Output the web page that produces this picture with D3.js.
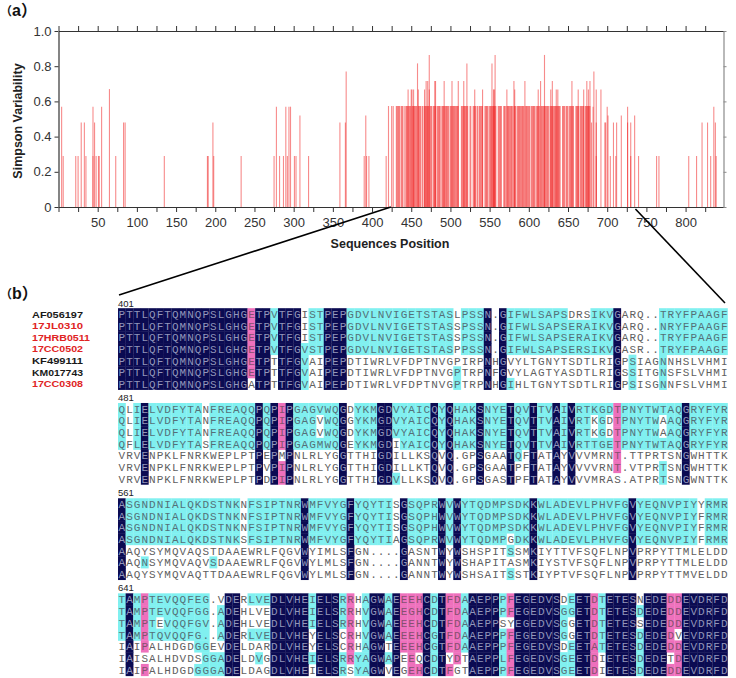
<!DOCTYPE html>
<html><head><meta charset="utf-8">
<style>html,body{margin:0;padding:0;background:#fff}svg{display:block}</style>
<script src="https://cdn.jsdelivr.net/npm/d3@7/dist/d3.min.js"></script>
</head><body><svg id="c" width="736" height="678"></svg>
<script>
// ---------- panel (a) data ----------
const scatterPositions = [4,6,22,25,29,33,35,44,44,46,48,51,52,55,65,73,83,85,135,190,191,197,198,233,275,278,282,287,290,292,294,296,301,303,308,319,359,366,367,390,392,393,396,418,680,682,686,686,697,698,700,701,704,708,711,712,718,726,726,730,730,735,740,763,766,804,814,821,828,832,836,838,839];
const scatterValues    = [.57,.29,.29,.29,.48,.48,.29,.29,.57,.48,.29,.29,.29,.57,.67,.29,.48,.48,.29,.29,.29,.48,.29,.29,.29,.57,.29,.29,.57,.29,.57,.57,.29,.29,.52,.29,.48,.48,.77,.29,.52,.29,.29,.29,.48,.57,.48,.29,.48,.48,.57,.52,.29,.48,.29,.48,.52,.57,.48,.48,.29,.52,.29,.29,.29,.29,.29,.48,.48,.29,.57,.48,.29];
const densePositions = [421,425,427,431,432,433,434,435,437,438,439,441,443,444,445,446,447,448,449,451,452,453,454,455,456,457,459,460,461,462,464,465,467,468,469,470,471,472,474,475,476,478,479,480,481,483,484,485,486,487,489,490,491,492,493,494,495,496,497,498,500,501,502,503,504,505,506,507,508,509,510,514,515,516,517,518,519,520,521,522,525,526,529,530,531,532,534,535,537,538,539,540,541,544,545,546,547,548,550,551,552,553,554,555,556,557,558,561,562,563,564,565,568,569,570,572,573,574,575,576,577,578,579,581,582,583,585,586,587,588,589,590,591,592,593,594,596,597,598,599,600,601,603,604,605,606,607,608,610,611,612,613,614,616,617,618,619,620,621,622,623,624,625,627,628,629,630,631,632,633,634,635,636,637,638,639,640,643,644,645,646,648,649,650,652,653,654,655,656,657,660,661,662,663,664,666,667,668,669,670,672,673,674,675,676,677,678];
const denseValue = 0.574;
const peakPositions = [446,450,451,453,458,459,467,469,471,473,473,480,481,492,502,510,517,521,531,541,553,555,556,557,572,581,582,595,612,615,620,628,630,635,637,655,663,670,674,676,678,683,686,692];
const peakValues    = [.668,.668,.668,.668,.816,.668,.668,.716,.716,.864,.668,.716,.716,.716,.716,.716,.716,.816,.668,.668,.816,.668,.668,.864,.668,.716,.668,.716,.668,.716,.864,.668,.716,.668,.668,.716,.668,.668,.716,.668,.716,.77,.668,.668];
const xTickLabels = [50,100,150,200,250,300,350,400,450,500,550,600,650,700,750,800];
const yTickValues = [0,0.2,0.4,0.6,0.8,1.0];

// ---------- panel (b) data ----------
const seqNames = ["AF056197","17JL0310","17HRB0511","17CC0502","KF499111","KM017743","17CC0308"];
const nameIsNew = [false,true,true,true,false,false,true];
const blockStarts = ["401","481","561","641"];
const block401 = [
"PTTLQFTQMNQPSLGHGETPVTFGISTPEPGDVLNVIGETSTASLPSSN.GIFWLSAPSDRSIKVGARQ..TRYFPAAGF",
"PTTLQFTQMNQPSLGHGETPVTFGISTPEPGDVLNVIGETSTASSPSSN.GIFWLSAPSERAIKVGARQ..NRYFPAAGF",
"PTTLQFTQMNQPSLGHGETPVTFGISTPEPGDVLNVIGETSTASSPSSN.GIFWLSAPSERAIKVGARQ..TRYFPAAGF",
"PTTLQFTQMNQPSLGHGETPVTFGVSTPEPGDVLNVIGETSTASPPSSN.GIFWLSAPSERSIKVGASR..TRYFPAAGF",
"PTTLQFTQMNQPSLGHGETPTTFGVAIPEPDTIWRLVFDPTNVGPIRPNHGVYLTGNYTSDTLRIGPSIAGNNHSLVHMI",
"PTTLQFTQMNQPSLGHGETPTTFGVAIPEPDTIWRLVFDPTNVGPTRPNFGVYLAGTYASDTLRIGSSITGNSFSLVHMI",
"PTTLQFTQMNQPSLGHGATPTTFGVAIPEPDTIWRLVFDPTNVGPTRPNHGIHLTGNYTSDTLRIGPSISGNNFSLVHMI"];
const shade401 = [
"17n1p2n1c3n1.2c3n14c1.3c1n1.1n8c3.3c1n5.9c",
"17n1p2n1c3n1.2c3n14c1.3c1n1.1n14c1n5.9c",
"17n1p2n1c3n1.2c3n14c1.3c1n1.1n14c1n5.9c",
"17n1p2n1c3n3c3n14c1.3c1n1.1n14c1n5.9c",
"17n1p2n1.3n1c2.3n18.1n1.1n14.1n1.1c3.1c8.",
"17n1p2n1.3n1c2.3n14.1c3.1n1.1n14.1n1.1c3.1c8.",
"17n1.2n1.3n1c2.3n14.1c3.1n1.1n1c13.1n1.1c3.1c8."];
const block481 = [
"QLIELVDFYTANFREAQQPQPIPGAGVWQGDYKMGDVYAICQYQHAKSNYETQVTTVAIVRTKGDTPNYTWTAQGRYFYR",
"QLIELVDFYTANFREAQQPQPIPGAGVWQGGYKMGDVYAICQYQHAKSNYETQVTTVAIVRTKGDTPNYTWAAQGRYFYR",
"QLIELVDFYTANFREAQQPQPIPGAGVWQGDYKMGDVYAICQYQHAKSNYETQVTTVAIVRTKGDTPNYTWAAQGRYFYR",
"QFLELVDFYTASFREAQQPQPIPGAGMWQGEYKMGDIYAICQYQHAKSNYETQVTTVAIVRTTGETPNYTWTAQGRYFYR",
"VRVENPKLFNRKWEPLPTPEPMPNLRLYGGTTHIGDILLKSQVQ.GPSGAATQFTATAYVVVMRNT.TTPRTSNGWHTTK",
"VRVENPKLFNRKWEPLPTPVPIPNLRLYGGTTHIGDILLKTQVQ.GPSGAATPFTATAYVVVVRNT.VTPRTSNGWHTTK",
"VRVENPKLFNRKWEPLPTPDPIPNLRLYGGTTHIGDVLLKSQVQ.GPSGASTPFTATAYVVVMRAS.ATPRTSNGWNTTK"];
const shade481 = [
"1c1.1c1n7c1.6c1n1c1n1p1n6c1n1.3c2n5c1n1c1n3c1n3c1n2c1n2c1n1c1n5c1p8c1n5c",
"1c1.1c1n7c1.6c1n1c1n1p1n3c1.2c1n1.3c2n5c1n1c1n3c1n3c1n2c1n2c1n1c1n2c1.1c1.1p5c1.2c1n5c",
"1c1.1c1n7c1.6c1n1c1n1p1n3c1.2c1n1.3c2n5c1n1c1n3c1n3c1n2c1n2c1n1c1n2c1.1c1.1p5c1.2c1n5c",
"1c1.1c1n7c1.6c1n1c1n1p1n6c1n1.3c2n1.4c1n1c1n3c1n3c1n2c1n2c1n1c1n5c1p8c1n5c",
"3.1n14.1n1.1n1.1n6.1n4.2n5.1n1.1n3.1n3.1n1c1.1n2.1n1.1n5.1p8.1n5.",
"3.1n14.1n1.1n1p1n6.1n4.2n5.1n1.1n3.1n3.1n2.1n2.1n1.1n5.1p5.1c2.1n5.",
"3.1n14.1n1.1n1p1n6.1n4.2n1c4.1n1.1n3.1n3.1n2.1n2.1n1.1n5.1.5.1c2.1n5."];
const block561 = [
"ASGNDNIALQKDSTNKNFSIPTNRWMFVYGFYQYTISGSQPRWVWYTQDMPSDKKWLADEVLPHVFGVYEQNVPIYYRMR",
"ASGNDNIALQKDSTNKNFSIPTNRWMFVYGFYQYTISGSQPHWVWYTQDMPSDKKWLADEVLPHVFGVYEQNVPIYFRMR",
"ASGNDNIALQKDSTNKNFSIPTNRWMFVYGFYQYTISGSQPHWVWYTQDMPSDKKWLADEVLPHVFGVYEQNVPIYFRMR",
"ASGNDNIALQKDSTNKSFSIPTNRWMFVYGFYQYTIAGSQPRWVWYTQDMPGDKKWLADEVLPHVFGVYEQNVPIYFRMR",
"AAQYSYMQVAQSTDAAEWRLFQGVWYIMLSFGN....GASNTWYWSHSPITSSMKIYTTVFSQFLNPVPRPYTTMLELDD",
"AAQNSYMQVAQVSDAAEWRLFQGVWYLMLSFGN....GANNTWYWSHAPITASMKIYSTVFSQFLNPVPRPYTTMLELDD",
"AAQYSYMQVAQTTDAAEWRLFQGVWYLMLSFGN....GANNTWYWSHSAITSSTKIYPTVFSQFLNPVPRPYTTMVELDD"];
const shade561 = [
"1n15c1.7c1n5c1n5c1.1n4c1n1c1n9c1n12c1n8c1.3c",
"1n15c1.7c1n5c1n5c1.1n4c1n1c1n9c1n12c1n8c1.3c",
"1n15c1.7c1n5c1n5c1.1n4c1n1c1n9c1n12c1n8c1.3c",
"1n15c1.7c1n5c1n5c1.1n4c1n1c1n6c1.2c1n12c1n8c1.3c",
"1n23.1n5.1n6.1n4.1n1.1n6.1c2.1n12.1n12.",
"1n2.1c8.1c11.1n5.1n6.1n4.1n1.1n9.1n12.1n12.",
"1n23.1n5.1n6.1n4.1n1.1n6.1c2.1n12.1n12."];
const block641 = [
"TAMPTEVQQFEG.VDERLVEDLVHEIELSRRHAGWAEEEHCDTFDAAEPPPFEGEDVSDEETDTETESNEDEDDEVDRFD",
"TAMPTEVQQFGG.ADEHLVEDLVHEIELSRRHVGWAEEGHCDTFDAAEPPPFEGEDVSGGETDTETESDEDEDDEVDRFD",
"TAMPTEVQQFGV.ADEHLVEDLVHEIELSRRHVGWAEEEHCDTFDAAEPPSYEGEDVSGGETDTETESSEDEDDEVDRFD",
"TAMPTQVQQFG..ADERLVEDLVHEYELSCRHVGWAEEEHCGTFDAAEPPPFEGEDVSGGETDTETESDEDEDVEVDRFD",
"IAIPALHDGDGGEVDELDARDLVHEYELSCRHAGWTEEEHCGTFDAAEPPPFEGEDVSDEETATETESDEDEDDEVDRFD",
"IAISALHDVDSGGADELDVGDLVHEIELSRRYAGWAPEEQCDTYDTAEPPLFEGEDVSGEETDIETESDEDETDEVDRFD",
"IAIPALHDGDGGGADELDAGDLVHEIELSRSYAGWVEGEHCDTFGTAEPPPFEGEDVSGEETDIETESDEDEDDEVDRFD"];
const shade641 = [
"1c1n1c1p8c2.2n1.3c5n1c3n1c1p1.1c2n1c1n2p1p1n1c1n2p1c4n1c1p6n1.1c2n1p1c4n1.3n2p6n",
"1c1n1c1p8c1.1c2n4.5n1c3n1c1p1.1c2n1c1n2p1p1n1c1n2p1c4n1c1p6n2c2n1p1c4n1c3n2p6n",
"1c1n1c1p1c1.6c1.1c2n4.5n1c3n1c1p1.1c2n1c1n2p1p1n1c1n2p1c4n2.6n1c1.2n1p1c4n1.3n2p6n",
"1c1n1c1p8c1.1c2n1.3c5n1.3n1.1p1.1c2n1c1n2p1p1n1c1n2p1c4n1c1p6n1c1.2n1p1c4n1c3n1p1.6n",
"1.1n1.1p6.2c2.2n4.5n1.3n1.1p1.1c2n1.1n2p1p1n1c1n2p1c4n1c1p6n1.1c2n1p1c4n1c3n2p6n",
"1.1n9.3c2n2.1c1.5n1c3n1c1p2c2n1c1n1.1p1.1n1c1n1.1p1.4n1c1p6n2c2n1p1.4n1c3n1.1p6n",
"1.1n1.1p6.4c2n4.5n1.3n1c1.2c2n1.1n1.1p1p1n1c1n1p2.4n1c1p6n2c2n1p1.4n1c3n2p6n"];

// ---------- layout ----------
const svg = d3.select("#c");
const FONT = "'Liberation Sans',Arial,sans-serif";
const x = d3.scaleLinear().domain([0,849]).range([58.5,724]);
const y = d3.scaleLinear().domain([0,1]).range([207,31]);
const minorTicks = d3.range(0,850,25);
const axisColor = "#333";

const bars = [
  ...scatterPositions.map((p,i)=>({p,v:scatterValues[i]})),
  ...densePositions.map(p=>({p,v:denseValue})),
  ...peakPositions.map((p,i)=>({p,v:peakValues[i]}))
];
svg.append("g").selectAll("line").data(bars).join("line")
  .attr("x1",d=>x(d.p)).attr("x2",d=>x(d.p))
  .attr("y1",y(0)).attr("y2",d=>y(d.v))
  .attr("stroke","#f02020").attr("stroke-opacity",0.52).attr("stroke-width",1.1);

function styleAxis(g,col){
  g.select(".domain").attr("stroke",col||axisColor).attr("stroke-width",1.2);
  g.selectAll(".tick line").attr("stroke",col||axisColor);
  g.selectAll("text").attr("font-family",FONT).attr("font-size",13).attr("fill","#333");
}
const bottom = d3.axisBottom(x).tickValues(minorTicks).tickSize(5).tickSizeOuter(0)
  .tickFormat(d=>xTickLabels.includes(d)?d:"");
svg.append("g").attr("transform","translate(0,207)").call(bottom).call(styleAxis)
  .selectAll("text").attr("dy","0.95em");
const top_ = d3.axisTop(x).tickValues(minorTicks).tickSize(5).tickSizeOuter(0).tickFormat("");
svg.append("g").attr("transform","translate(0,31)").call(top_).call(styleAxis);
const left = d3.axisLeft(y).tickValues(yTickValues).tickSize(4).tickSizeOuter(0)
  .tickFormat(d=>d===0?"0":d3.format(".1f")(d));
svg.append("g").attr("transform","translate(58.5,0)").call(left).call(styleAxis);
const right = d3.axisRight(y).tickValues(yTickValues).tickSize(3).tickSizeOuter(0).tickFormat("");
svg.append("g").attr("transform","translate(723.5,0)").call(right).call(g=>styleAxis(g,"#8a8a8a"));

svg.append("text").attr("transform","translate(22,121) rotate(-90)").attr("text-anchor","middle")
  .attr("font-family",FONT).attr("font-weight","bold").attr("font-size",12.5).attr("fill","#222").text("Simpson Variability");
svg.append("text").attr("x",390).attr("y",248).attr("text-anchor","middle")
  .attr("font-family",FONT).attr("font-weight","bold").attr("font-size",12.5).attr("fill","#222").text("Sequences Position");

const panelFont = "'Liberation Sans','Noto Sans CJK SC',sans-serif";
function panelLabel(letter,yPos){
  const t = svg.append("text").attr("x",0).attr("y",yPos).attr("font-family",panelFont)
    .attr("font-weight","bold").attr("font-size",16).attr("fill","#111");
  t.append("tspan").attr("font-size",12).text("（");
  t.append("tspan").text(letter);
  t.append("tspan").text("）");
}
panelLabel("a",16);
panelLabel("b",299);

// zoom lines
svg.append("line").attr("x1",x(424)).attr("y1",207).attr("x2",119).attr("y2",295).attr("stroke","#000").attr("stroke-width",1.6);
svg.append("line").attr("x1",x(736)).attr("y1",209).attr("x2",725).attr("y2",303).attr("stroke","#000").attr("stroke-width",1.6);

// alignment
const col = d3.scaleBand().domain(d3.range(80)).range([118,727.6]);
const shadeColor = {n:"#0b0b52",c:"#80f0f0",p:"#ee70bc"};
const textColor = {n:"#9296ba",c:"#557078",p:"#86506f",".":"#606060"};
function decode(s){
  const out=[];
  for(const m of s.matchAll(/(\d+)([ncp.])/g)) for(let i=0;i<+m[1];i++) out.push(m[2]);
  return out;
}
const blocks = [
 {seq:block401,shade:shade401,label:blockStarts[0],labelY:304,top:314.2,step:11.62},
 {seq:block481,shade:shade481,label:blockStarts[1],labelY:398,top:409,step:11.62},
 {seq:block561,shade:shade561,label:blockStarts[2],labelY:493,top:504.3,step:11.62},
 {seq:block641,shade:shade641,label:blockStarts[3],labelY:588,top:599.4,step:11.77}
];
blocks.forEach(b=>{
  const rowH = b.step+0.4;
  svg.append("text").attr("x",118).attr("y",b.labelY).attr("dy","0.35em")
    .attr("font-family",FONT).attr("font-size",9.5).attr("fill","#222").text(b.label);
  b.seq.forEach((s,r)=>{
    const sh = decode(b.shade[r]);
    const rowY = b.top + r*b.step;
    const cells = Array.from(s).map((ch,i)=>({ch,i,k:sh[i]||"."}));
    const g = svg.append("g");
    g.selectAll("rect").data(cells.filter(d=>d.k!==".")).join("rect")
      .attr("x",d=>col(d.i)).attr("y",rowY-rowH/2).attr("width",col.bandwidth()+0.2).attr("height",rowH)
      .attr("fill",d=>shadeColor[d.k]);
    g.append("text").attr("x",col(0)+0.5).attr("y",rowY).attr("dy","0.35em")
      .attr("font-family","'Liberation Mono',monospace").attr("font-size",11)
      .attr("letter-spacing",1.02).attr("xml:space","preserve")
      .selectAll("tspan").data(cells).join("tspan")
      .attr("fill",d=>textColor[d.k]).text(d=>d.ch);
  });
});
// names beside the first block
seqNames.forEach((n,i)=>{
  svg.append("text").attr("x",32).attr("y",blocks[0].top+i*blocks[0].step).attr("dy","0.35em")
    .attr("font-family",FONT).attr("font-weight","bold").attr("font-size",9.8)
    .attr("fill",nameIsNew[i]?"#e02424":"#1a1a1a").attr("textLength",n.length>8?58:51).attr("lengthAdjust","spacingAndGlyphs").text(n);
});
</script></body></html>
